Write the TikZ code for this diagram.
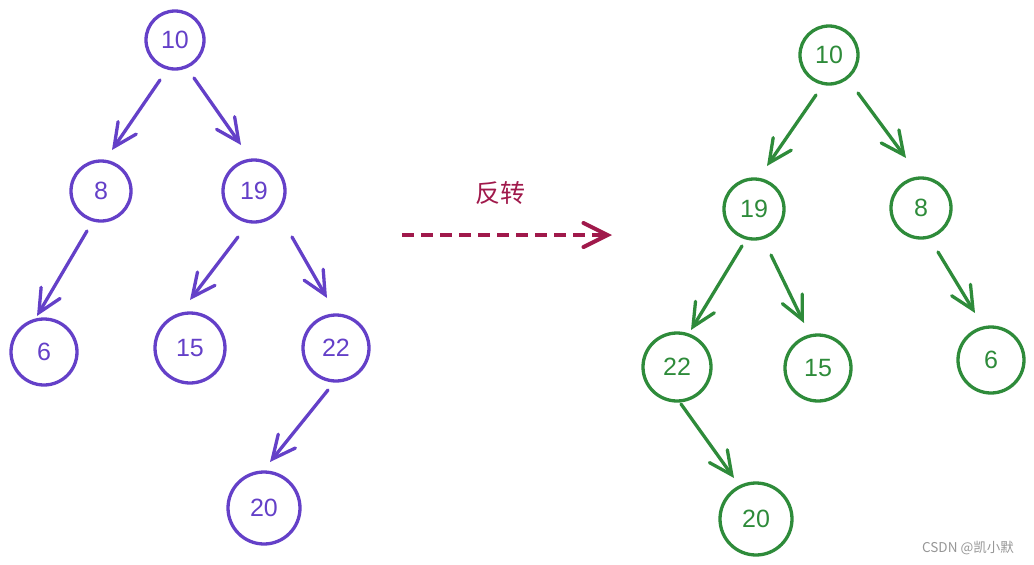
\documentclass[tikz,border=0pt]{standalone}
\usepackage{fontspec}
\setmainfont{Noto Sans CJK SC}
\newfontfamily\numfont{Liberation Sans}
\usetikzlibrary{arrows.meta,calc}
\definecolor{purp}{RGB}{100,64,200}
\definecolor{grn}{RGB}{46,139,58}
\definecolor{crim}{RGB}{160,25,75}
\definecolor{wm}{RGB}{150,150,150}
\tikzset{
  pnode/.style={circle,draw=purp,line width=3.3pt,text=purp,inner sep=0pt,font=\numfont\fontsize{25}{25}\selectfont},
  gnode/.style={circle,draw=grn,line width=3.3pt,text=grn,inner sep=0pt,font=\numfont\fontsize{25}{25}\selectfont},
  parr/.style={draw=purp,line width=3.3pt,line cap=round,-{Straight Barb[length=23pt,width=22pt,line cap=round]}},
  garr/.style={draw=grn,line width=3.3pt,line cap=round,-{Straight Barb[length=23pt,width=22pt,line cap=round]}},
}
\begin{document}
\begin{tikzpicture}[x=1pt,y=-1pt]
\useasboundingbox (0,0) rectangle (1034,565);
% left tree
\node[pnode,minimum size=58pt] (a10) at (175,40) {10};
\node[pnode,minimum size=60pt] (a8) at (101,191) {8};
\node[pnode,minimum size=62pt] (a19) at (254,191) {19};
\node[pnode,minimum size=66pt] (a6) at (44,352) {6};
\node[pnode,minimum size=70pt] (a15) at (190,348) {15};
\node[pnode,minimum size=66pt] (a22) at (336,348) {22};
\node[pnode,minimum size=72pt] (a20) at (264,508) {20};
\draw[parr] ($(a10)+(-15,40)$) -- ($(a8)+(11,-41)$);
\draw[parr] ($(a10)+(19,38)$) -- ($(a19)+(-13,-46)$);
\draw[parr] ($(a8)+(-14,40)$) -- ($(a6)+(-7,-36)$);
\draw[parr] ($(a19)+(-16,46)$) -- ($(a15)+(0,-48)$);
\draw[parr] ($(a19)+(38,46)$) -- ($(a22)+(-9,-50)$);
\draw[parr] ($(a22)+(-8,42)$) -- ($(a20)+(6,-46)$);
% right tree
\node[gnode,minimum size=58pt] (b10) at (829,55) {10};
\node[gnode,minimum size=60pt] (b19) at (754,209) {19};
\node[gnode,minimum size=60pt] (b8) at (921,208) {8};
\node[gnode,minimum size=68pt] (b22) at (677,367) {22};
\node[gnode,minimum size=66pt] (b15) at (818,368) {15};
\node[gnode,minimum size=66pt] (b6) at (991,360) {6};
\node[gnode,minimum size=72pt] (b20) at (756,519) {20};
\draw[garr] ($(b10)+(-13,40)$) -- ($(b19)+(13,-43)$);
\draw[garr] ($(b10)+(29,38)$) -- ($(b8)+(-15,-50)$);
\draw[garr] ($(b19)+(-12,37)$) -- ($(b22)+(14,-37)$);
\draw[garr] ($(b19)+(17,46)$) -- ($(b15)+(-14,-45)$);
\draw[garr] ($(b8)+(17,44)$) -- ($(b6)+(-16,-47)$);
\draw[garr] ($(b22)+(4,37)$) -- ($(b20)+(-22,-41)$);
% transform arrow
\coordinate (s) at (402,235);
\coordinate (e) at (612,235);
\draw[draw=crim,line width=4pt,dash pattern=on 12pt off 7pt,-{Straight Barb[length=24pt,width=24pt,line cap=round]}] (s) -- (e);
\node[text=crim,font=\fontsize{25}{25}\selectfont] (lbl) at (500,193) {反转};
\node[text=wm,font=\fontsize{13.5}{14}\selectfont] (wmk) at (968,548) {CSDN @凯小默};
\end{tikzpicture}
\end{document}
